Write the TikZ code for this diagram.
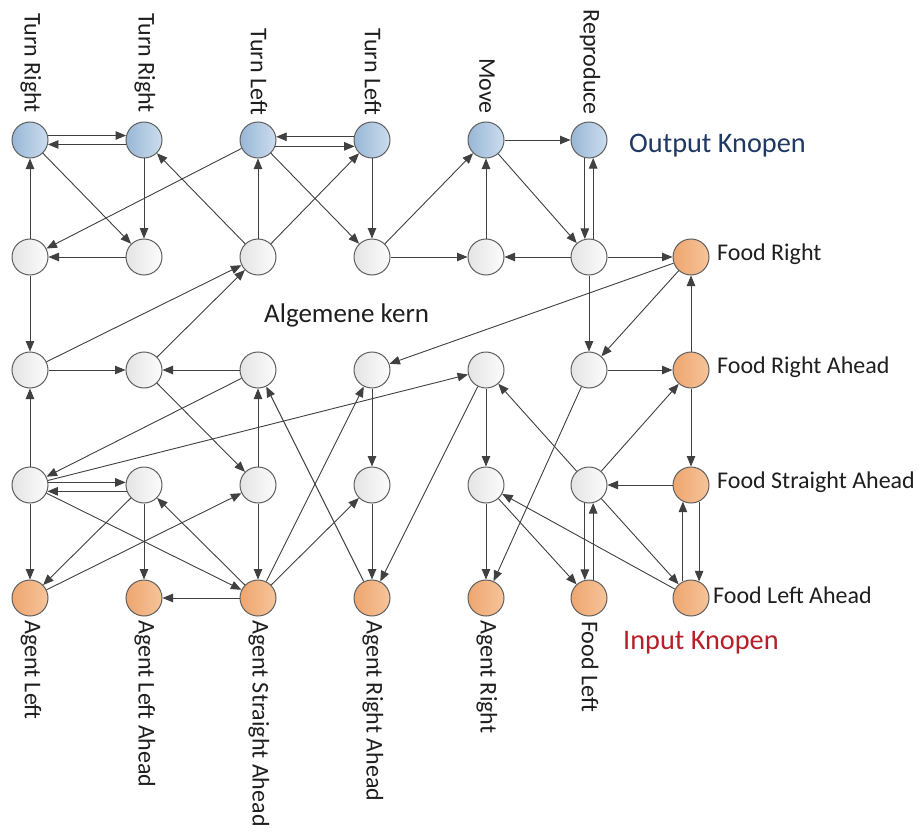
\documentclass[tikz,border=0pt]{standalone}
\usepackage{fontspec}
\setmainfont{Carlito}
\usetikzlibrary{arrows.meta}
\definecolor{bluea}{RGB}{152,183,214}
\definecolor{blueb}{RGB}{204,221,238}
\definecolor{orna}{RGB}{238,166,112}
\definecolor{ornb}{RGB}{246,196,154}
\definecolor{greya}{RGB}{228,228,228}
\definecolor{greyb}{RGB}{252,252,252}
\definecolor{rim}{RGB}{95,95,95}
\definecolor{lnc}{RGB}{64,64,64}
\definecolor{outtxt}{RGB}{31,56,100}
\definecolor{intxt}{RGB}{184,30,40}
\tikzset{
  base/.style={circle, draw=rim, line width=1pt, minimum size=36pt, inner sep=0pt},
  outn/.style={base, left color=bluea, right color=blueb},
  inn/.style={base, left color=orna, right color=ornb},
  hid/.style={base, left color=greya, right color=greyb},
  arr/.style={draw=lnc, line width=0.9pt, -{Triangle[length=10.5pt,width=8.5pt]}},
  lab/.style={font=\fontsize{24}{28}\selectfont, inner sep=0pt, text=black!88},
  toplab/.style={lab, rotate=-90, anchor=east},
  botlab/.style={lab, rotate=-90, anchor=west},
  sidelab/.style={lab, anchor=west}
}
\begin{document}
\begin{tikzpicture}[x=1pt,y=-1pt]
\useasboundingbox (0,0) rectangle (921,832);
\fill[white] (0,0) rectangle (921,832);
% output nodes
\node[outn] (o1) at (30,140) {};
\node[outn] (o2) at (144,140) {};
\node[outn] (o3) at (258,140) {};
\node[outn] (o4) at (372,140) {};
\node[outn] (o5) at (486,140) {};
\node[outn] (o6) at (589,140) {};
% hidden rows
\node[hid] (h21) at (30,257) {};
\node[hid] (h22) at (144,257) {};
\node[hid] (h23) at (258,257) {};
\node[hid] (h24) at (372,257) {};
\node[hid] (h25) at (486,257) {};
\node[hid] (h26) at (589,257) {};
\node[hid] (h31) at (30,370) {};
\node[hid] (h32) at (144,370) {};
\node[hid] (h33) at (258,370) {};
\node[hid] (h34) at (372,370) {};
\node[hid] (h35) at (486,370) {};
\node[hid] (h36) at (589,370) {};
\node[hid] (h41) at (30,485) {};
\node[hid] (h42) at (144,485) {};
\node[hid] (h43) at (258,485) {};
\node[hid] (h44) at (372,485) {};
\node[hid] (h45) at (486,485) {};
\node[hid] (h46) at (589,485) {};
% input nodes
\node[inn] (f1) at (691,257) {};
\node[inn] (f2) at (691,370) {};
\node[inn] (f3) at (691,485) {};
\node[inn] (f4) at (691,598) {};
\node[inn] (a1) at (30,598) {};
\node[inn] (a2) at (144,598) {};
\node[inn] (a3) at (258,598) {};
\node[inn] (a4) at (372,598) {};
\node[inn] (a5) at (486,598) {};
\node[inn] (a6) at (589,598) {};
% labels
\node[toplab] (lo1) at (31,113) {Turn Right};
\node[toplab] (lo2) at (145,113) {Turn Right};
\node[toplab] (lo3) at (259,115) {Turn Left};
\node[toplab] (lo4) at (373,115) {Turn Left};
\node[toplab] (lo5) at (487,114) {Move};
\node[toplab] (lo6) at (590,115) {Reproduce};
\node[botlab] (la1) at (31,620) {Agent Left};
\node[botlab] (la2) at (145,620) {Agent Left Ahead};
\node[botlab] (la3) at (259,620) {Agent Straight Ahead};
\node[botlab] (la4) at (373,620) {Agent Right Ahead};
\node[botlab] (la5) at (487,620) {Agent Right};
\node[botlab] (la6) at (590,621) {Food Left};
\node[sidelab] (lf1) at (717,254) {Food Right};
\node[sidelab] (lf2) at (717,367) {Food Right Ahead};
\node[sidelab] (lf3) at (717,482) {Food Straight Ahead};
\node[sidelab] (lf4) at (713,595) {Food Left Ahead};
\node[lab, anchor=west, font=\fontsize{28.3}{33}\selectfont, text=outtxt] (tout) at (629,146) {Output Knopen};
\node[lab, anchor=west, font=\fontsize{28.3}{33}\selectfont, text=intxt] (tin) at (623,643) {Input Knopen};
\node[lab, anchor=west, font=\fontsize{27}{31}\selectfont] (tkern) at (264,315) {Algemene kern};
% connectors: top part
\draw[arr] (o1.14) -- (o2.166);
\draw[arr] (o2.194) -- (o1.346);
\draw[arr] (o1) -- (h22);
\draw[arr] (o2) -- (h22);
\draw[arr] (o3) -- (h21);
\draw[arr] (h23) -- (o2);
\draw[arr] (h23) -- (o3);
\draw[arr] (h23) -- (o4);
\draw[arr] (o3) -- (h24);
\draw[arr] (o4.170) -- (o3.10);
\draw[arr] (o3.340) -- (o4.200);
\draw[arr] (h22) -- (h21);
\draw[arr] (h21) -- (o1);
\draw[arr] (h21) -- (h31);
\draw[arr] (h31) -- (h23);
\draw[arr] (h32) -- (h23);
\draw[arr] (h31) -- (h32);
\draw[arr] (h33) -- (h32);
\draw[arr] (h41) -- (h31);
\draw[arr] (o4) -- (h24);
\draw[arr] (h24) -- (o5);
\draw[arr] (h24) -- (h25);
\draw[arr] (h25) -- (o5);
\draw[arr] (o5) -- (o6);
\draw[arr] (o5) -- (h26);
\draw[arr] (o6.257) -- (h26.103);
\draw[arr] (h26.77) -- (o6.283);
\draw[arr] (h26) -- (h25);
\draw[arr] (h26) -- (f1);
\draw[arr] (f1) -- (h34);
\draw[arr] (h26) -- (h36);
\draw[arr] (f1) -- (h36);
\draw[arr] (f2) -- (f1);
\draw[arr] (h36) -- (f2);
% middle and bottom
\draw[arr] (h32) -- (h43);
\draw[arr] (h33) -- (h41);
\draw[arr] (h41) -- (h35);
\draw[arr] (h35) -- (a4);
\draw[arr] (h41.8) -- (h42.172);
\draw[arr] (h42.200) -- (h41.340);
\draw[arr] (h41) -- (a1);
\draw[arr] (h41) -- (a3);
\draw[arr] (h42) -- (a1);
\draw[arr] (h42) -- (a2);
\draw[arr] (a1) -- (h43);
\draw[arr] (a3) -- (h42);
\draw[arr] (h43) -- (h33);
\draw[arr] (h43) -- (a3);
\draw[arr] (a3) -- (a2);
\draw[arr] (a3) -- (h34);
\draw[arr] (a3) -- (h44);
\draw[arr] (a4) -- (h33);
\draw[arr] (h34) -- (h44);
\draw[arr] (h44) -- (a4);
\draw[arr] (h35) -- (h45);
\draw[arr] (h45) -- (a5);
\draw[arr] (h45) -- (a6);
\draw[arr] (f4) -- (h45);
\draw[arr] (h36) -- (a5);
\draw[arr] (h46) -- (h35);
\draw[arr] (h46) -- (f2);
\draw[arr] (f2) -- (f3);
\draw[arr] (f3) -- (h46);
\draw[arr] (h46) -- (f4);
\draw[arr] (h46.257) -- (a6.103);
\draw[arr] (a6.77) -- (h46.283);
\draw[arr] (f4.116) -- (f3.244);
\draw[arr] (f3.296) -- (f4.64);
\end{tikzpicture}
\end{document}
